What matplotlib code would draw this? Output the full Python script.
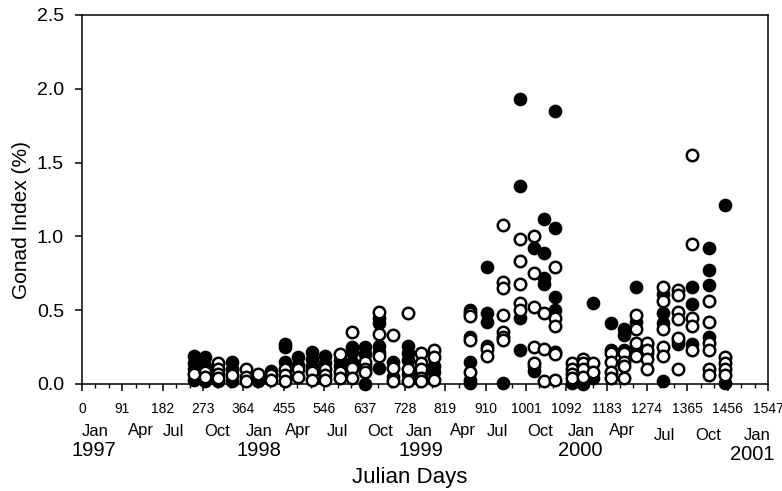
import matplotlib
matplotlib.use("Agg")
import matplotlib.pyplot as plt
import matplotlib.transforms as mtransforms

plt.rcParams['font.family'] = ['Liberation Sans', 'DejaVu Sans']

# sampling dates (julian days from 1 Jan 1997)
sample_days = [253, 277, 307, 338, 370, 397, 426, 458, 487, 519, 548, 582, 609, 638,
               670, 701, 735, 765, 794, 875, 913, 950, 988, 1019, 1042, 1067, 1105,
               1130, 1153, 1193, 1222, 1249, 1274, 1310, 1344, 1376, 1414, 1450]

# gonad index (%) per date, filled symbols
filled_gi = [
    [0.19, 0.14, 0.10, 0.03], [0.18, 0.12, 0.02], [0.02], [0.15, 0.10, 0.02], [],
    [0.05, 0.02], [0.09], [0.27, 0.25, 0.15], [0.18, 0.13], [0.22, 0.17, 0.12],
    [0.19, 0.14], [0.16, 0.12], [0.25, 0.22, 0.15], [0.25, 0.20, 0.13, 0.0],
    [0.45, 0.41, 0.26, 0.22, 0.11], [0.15, 0.05], [0.26, 0.21, 0.16, 0.07], [0.06],
    [0.12, 0.08], [0.50, 0.32, 0.15, 0.03, 0.01], [0.79, 0.48, 0.42, 0.26], [0.01],
    [1.93, 1.34, 0.45, 0.23], [0.92, 0.12, 0.09], [1.12, 0.89, 0.72, 0.68],
    [1.85, 1.06, 0.59, 0.50], [0.01], [0.0], [0.55, 0.04], [0.41, 0.23],
    [0.37, 0.33, 0.23], [0.66, 0.42, 0.25], [0.27, 0.21], [0.61, 0.48, 0.41, 0.02],
    [0.29, 0.27], [0.66, 0.54, 0.27], [0.92, 0.77, 0.67, 0.32], [1.21, 0.01],
]

# gonad index (%) per date, open symbols
open_gi = [
    [0.07], [0.08, 0.05], [0.14, 0.10, 0.07, 0.04], [0.06], [0.10, 0.05, 0.02],
    [0.07], [0.06, 0.03], [0.10, 0.06, 0.02], [0.10, 0.05], [0.08, 0.03],
    [0.10, 0.06, 0.03], [0.20, 0.08, 0.04], [0.35, 0.11, 0.04], [0.15, 0.10, 0.08],
    [0.49, 0.34, 0.19], [0.33, 0.11, 0.02], [0.48, 0.10, 0.02],
    [0.21, 0.14, 0.10, 0.04, 0.02], [0.23, 0.18, 0.03], [0.48, 0.46, 0.30, 0.08],
    [0.24, 0.19], [1.08, 0.69, 0.65, 0.47, 0.35, 0.32, 0.30],
    [0.98, 0.83, 0.68, 0.55, 0.50], [1.00, 0.75, 0.52, 0.25, 0.14],
    [0.48, 0.24, 0.02], [0.79, 0.45, 0.39, 0.22, 0.20, 0.03],
    [0.14, 0.10, 0.07, 0.04], [0.17, 0.14, 0.10, 0.05], [0.14, 0.08],
    [0.21, 0.15, 0.08, 0.04], [0.21, 0.15, 0.12, 0.04], [0.47, 0.37, 0.28, 0.19],
    [0.28, 0.23, 0.17, 0.10], [0.66, 0.56, 0.37, 0.25, 0.19],
    [0.64, 0.60, 0.49, 0.44, 0.31, 0.10], [1.55, 0.95, 0.45, 0.39, 0.23],
    [0.56, 0.42, 0.28, 0.23, 0.10, 0.06], [0.18, 0.14, 0.10, 0.06],
]

day_ticks = list(range(0, 1548, 91))
gi_ticks = [0.0, 0.5, 1.0, 1.5, 2.0, 2.5]

month_names = ['Jan', 'Apr', 'Jul', 'Oct', 'Jan', 'Apr', 'Jul', 'Oct',
               'Jan', 'Apr', 'Jul', 'Oct', 'Jan', 'Apr', 'Jul', 'Oct', 'Jan']
month_x = [29, 133, 207, 304, 399, 487, 575, 672, 760, 859, 936, 1033,
           1125, 1218, 1313, 1412, 1522]
years = ['1997', '1998', '1999', '2000', '2001']
year_x = [27, 399, 765, 1123, 1511]


def flatten(days, groups):
    xs, ys = [], []
    for d, vals in zip(days, groups):
        for v in vals:
            xs.append(d)
            ys.append(v)
    return xs, ys


fig = plt.figure(figsize=(7.82, 4.91), dpi=100)
ax = fig.add_axes([82 / 782, 1 - 384 / 491, 686 / 782, 369 / 491])

fx, fy = flatten(sample_days, filled_gi)
ox, oy = flatten(sample_days, open_gi)
ax.scatter(fx, fy, s=75, c='black', edgecolors='black', linewidths=1.2,
           clip_on=False, zorder=3)
ax.scatter(ox, oy, s=68, facecolors='white', edgecolors='black', linewidths=1.8,
           clip_on=False, zorder=4)

ax.set_xlim(0, 1547)
ax.set_ylim(0, 2.5)
ax.set_xticks(day_ticks)
ax.set_xticks([t + k * 91 / 3 for t in day_ticks[:-1] for k in (1, 2)], minor=True)
ax.set_yticks(gi_ticks)
ax.set_yticklabels([f'{v:.1f}' for v in gi_ticks])
ax.tick_params(axis='x', which='major', direction='out', length=5, width=1.1,
               labelsize=10, pad=8)
ax.tick_params(axis='x', which='minor', direction='out', length=3, width=1.0)
ax.tick_params(axis='y', direction='out', length=5, width=1.1, labelsize=14, pad=8)
for sp in ax.spines.values():
    sp.set_linewidth(1.1)

trans = mtransforms.blended_transform_factory(ax.transData, fig.transFigure)
for i, (name, x) in enumerate(zip(month_names, month_x)):
    py = 431 if i < 14 else 436
    ax.text(x, 1 - py / 491, name, transform=trans, ha='center', va='center',
            fontsize=12, clip_on=False)
for i, (yr, x) in enumerate(zip(years, year_x)):
    py = 450 if i < 4 else 454
    ax.text(x, 1 - py / 491, yr, transform=trans, ha='center', va='center',
            fontsize=14.5, clip_on=False)

fig.text(410 / 782, 1 - 478 / 491, 'Julian Days', ha='center', va='center', fontsize=16)
fig.text(22 / 782, 1 - 220 / 491, 'Gonad Index (%)', ha='center', va='center',
         rotation=90, fontsize=15)

fig.savefig('out.png', dpi=100)
